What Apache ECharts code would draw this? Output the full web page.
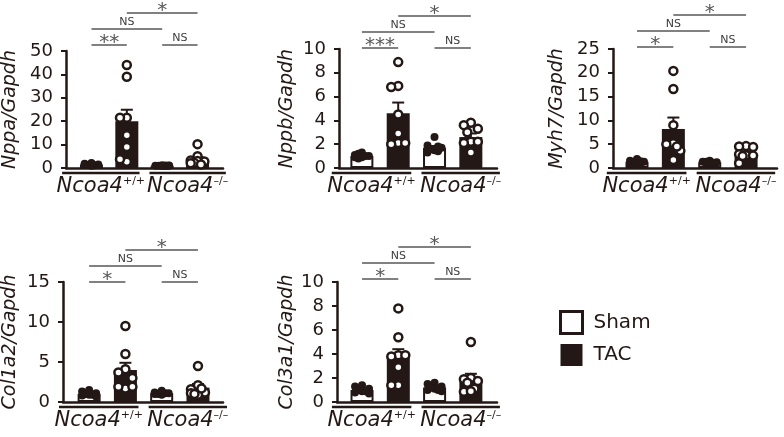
<!DOCTYPE html>
<html>
<head>
<meta charset="utf-8">
<script src="https://cdn.jsdelivr.net/npm/echarts@6/dist/echarts.min.js"></script>
<style>
html, body { margin: 0; padding: 0; background: #fff; }
#main { width: 784px; height: 437px; }
</style>
</head>
<body>
<div id="main"></div>
<script>
// group order in every panel: Sham +/+, TAC +/+, Sham -/-, TAC -/-
var treatments = ['Sham', 'TAC'];
var genotypeSup = ['+/+', '–/–'];
var sigPairs = [[0, 1, 0], [0, 2, 1], [1, 3, 2], [2, 3, 0]]; // from, to, level

var nppaMean = [1.5, 20.0, 1.0, 3.7];
var nppaSem = [0.15, 4.9, 0.05, 1.0];
var nppaDots = [[2.1, 1.8, 1.5, 1.3, 1.2, 1.0, 1.4, 1.6], [44, 39, 21.5, 21.5, 14, 9, 2.7, 3.7],
                [1.2, 1.0, 1.1, 0.9, 1.0, 1.1, 0.9, 1.0], [10.2, 5.0, 3.2, 2.8, 3.0, 2.2, 1.5, 2.0]];
var nppaSig = ['**', 'NS', '*', 'NS'];

var nppbMean = [1.0, 4.6, 1.7, 2.6];
var nppbSem = [0.08, 0.9, 0.15, 0.3];
var nppbDots = [[1.3, 1.1, 1.0, 0.9, 0.8, 1.0, 1.2, 0.9], [8.9, 6.9, 6.8, 4.5, 2.9, 2.1, 2.0, 2.1],
                [2.6, 1.9, 1.7, 1.5, 1.6, 1.3, 1.8, 1.4], [3.8, 3.6, 3.3, 3.0, 2.2, 2.1, 2.2, 1.3]];
var nppbSig = ['***', 'NS', '*', 'NS'];

var myh7Mean = [1.3, 8.2, 1.2, 3.0];
var myh7Sem = [0.15, 2.4, 0.1, 0.5];
var myh7Dots = [[1.9, 1.5, 1.3, 1.1, 1.0, 1.2, 0.9, 1.4], [20.4, 16.6, 9.0, 5.2, 5.0, 3.6, 1.7, 4.5],
                [1.5, 1.3, 1.2, 1.0, 1.1, 0.9, 1.2, 1.3], [4.6, 4.5, 4.4, 2.7, 2.9, 1.0, 2.6, 2.5]];
var myh7Sig = ['*', 'NS', '*', 'NS'];

var col1a2Mean = [1.0, 4.0, 1.1, 1.8];
var col1a2Sem = [0.1, 0.9, 0.07, 0.45];
var col1a2Dots = [[1.5, 1.3, 1.1, 1.0, 0.9, 0.8, 0.9, 0.7], [9.5, 6.0, 4.1, 3.7, 3.0, 1.7, 1.9, 1.9],
                  [1.4, 1.2, 1.1, 1.0, 1.1, 0.9, 1.2, 1.0], [4.5, 2.1, 1.6, 1.2, 0.9, 1.7, 1.1, 1.0]];
var col1a2Sig = ['*', 'NS', '*', 'NS'];

var col3a1Mean = [1.0, 3.8, 1.2, 1.8];
var col3a1Sem = [0.1, 0.6, 0.12, 0.55];
var col3a1Dots = [[1.4, 1.3, 1.1, 0.9, 0.8, 0.7, 1.0, 0.9], [7.8, 5.4, 3.9, 3.8, 3.9, 2.9, 1.4, 1.4],
                  [1.6, 1.5, 1.3, 1.1, 1.0, 0.9, 1.2, 1.0], [5.0, 2.0, 1.9, 1.75, 1.6, 1.1, 0.86, 0.9]];
var col3a1Sig = ['*', 'NS', '*', 'NS'];

var panels = [
    { title: 'Nppa/Gapdh', max: 50, step: 10, mean: nppaMean, sem: nppaSem, dots: nppaDots, sig: nppaSig },
    { title: 'Nppb/Gapdh', max: 10, step: 2, mean: nppbMean, sem: nppbSem, dots: nppbDots, sig: nppbSig },
    { title: 'Myh7/Gapdh', max: 25, step: 5, mean: myh7Mean, sem: myh7Sem, dots: myh7Dots, sig: myh7Sig },
    { title: 'Col1a2/Gapdh', max: 15, step: 5, mean: col1a2Mean, sem: col1a2Sem, dots: col1a2Dots, sig: col1a2Sig },
    { title: 'Col3a1/Gapdh', max: 10, step: 2, mean: col3a1Mean, sem: col3a1Sem, dots: col3a1Dots, sig: col3a1Sig }
];

// layout of each panel (pixels)
var layout = [
    { left: 62, top: 51, width: 161, height: 117, xMin: -0.72, xMax: 3.72, bracket: 6, nameGap: 46 },
    { left: 339, top: 49, width: 158, height: 119, xMin: -0.63, xMax: 3.72, bracket: 1, nameGap: 42 },
    { left: 613, top: 49, width: 164, height: 119, xMin: -0.66, xMax: 3.85, bracket: 2, nameGap: 46 },
    { left: 63, top: 282, width: 160, height: 120, xMin: -0.72, xMax: 3.69, bracket: 0, nameGap: 43 },
    { left: 337, top: 282, width: 160, height: 120, xMin: -0.69, xMax: 3.72, bracket: 3, nameGap: 40 }
];
var underline = [[-0.83, 1.36], [1.64, 3.8]];

var INK = '#231815';
var GREY = '#595757';
var FONT = 'DejaVu Sans';

// simple beeswarm: spread overlapping dots sideways inside the bar
function swarm(vals, g, xScale, yScale) {
    var placed = [];
    var cand = [0, -7, 7, -3.5, 3.5];
    return vals.map(function (v) {
        var best = 0, bestD = -1;
        for (var k = 0; k < cand.length; k++) {
            var d = Infinity;
            placed.forEach(function (q) {
                var dx = cand[k] - q[0], dy = (v - q[1]) * yScale;
                d = Math.min(d, Math.sqrt(dx * dx + dy * dy));
            });
            if (d >= 9) { best = cand[k]; break; }
            if (d > bestD) { bestD = d; best = cand[k]; }
        }
        placed.push([best, v]);
        return [g + best / xScale, v];
    });
}

var grids = [], xAxes = [], yAxes = [], series = [];

panels.forEach(function (p, i) {
    var L = layout[i];
    var xScale = L.width / (L.xMax - L.xMin);
    var yScale = L.height / p.max;

    grids.push({ left: L.left, top: L.top, width: L.width, height: L.height });

    xAxes.push({
        type: 'value', gridIndex: i, min: L.xMin, max: L.xMax,
        axisLine: { show: true, onZero: false, lineStyle: { color: INK, width: 2.5 } },
        axisTick: { show: false }, axisLabel: { show: false }, splitLine: { show: false }
    });

    yAxes.push({
        type: 'value', gridIndex: i, min: 0, max: p.max, interval: p.step,
        name: p.title, nameLocation: 'middle', nameGap: L.nameGap,
        nameTextStyle: { fontFamily: FONT, fontSize: 19, fontStyle: 'italic', color: INK },
        axisLine: { show: true, onZero: false, lineStyle: { color: INK, width: 2.5 } },
        axisTick: { show: true, length: 5, lineStyle: { color: INK, width: 2 } },
        axisLabel: { fontFamily: FONT, fontSize: 18, color: INK, margin: 13 },
        splitLine: { show: false }
    });

    // bars
    series.push({
        type: 'bar', name: 'Sham', xAxisIndex: i, yAxisIndex: i, barWidth: 23, barGap: '-100%',
        data: [[0, p.mean[0]], [2, p.mean[2]]], silent: true, z: 2,
        itemStyle: { color: '#fff', borderColor: INK, borderWidth: 2 }
    });
    series.push({
        type: 'bar', name: 'TAC', xAxisIndex: i, yAxisIndex: i, barWidth: 23, barGap: '-100%',
        data: [[1, p.mean[1]], [3, p.mean[3]]], silent: true, z: 2,
        itemStyle: { color: INK }
    });

    // SEM (upper only)
    series.push({
        type: 'custom', xAxisIndex: i, yAxisIndex: i, clip: false, silent: true, z: 3,
        data: p.mean.map(function (m, g) { return [g, m, m + p.sem[g]]; }),
        renderItem: function (params, api) {
            var base = api.coord([api.value(0), api.value(1)]);
            var tip = api.coord([api.value(0), api.value(2)]);
            return {
                type: 'group', children: [
                    { type: 'line', shape: { x1: base[0], y1: base[1], x2: tip[0], y2: tip[1] }, style: { stroke: INK, lineWidth: 2 } },
                    { type: 'line', shape: { x1: tip[0] - 6, y1: tip[1], x2: tip[0] + 6, y2: tip[1] }, style: { stroke: INK, lineWidth: 2 } }
                ]
            };
        }
    });

    // individual animals
    var shamPts = swarm(p.dots[0], 0, xScale, yScale).concat(swarm(p.dots[2], 2, xScale, yScale));
    var tacPts = swarm(p.dots[1], 1, xScale, yScale).concat(swarm(p.dots[3], 3, xScale, yScale));
    series.push({
        type: 'scatter', xAxisIndex: i, yAxisIndex: i, symbolSize: 8, silent: true, z: 4,
        data: shamPts, itemStyle: { color: INK, opacity: 1 }
    });
    series.push({
        type: 'scatter', xAxisIndex: i, yAxisIndex: i, symbolSize: 8, silent: true, z: 4,
        data: tacPts, itemStyle: { color: '#fff', borderColor: INK, borderWidth: 2.5, opacity: 1 }
    });

    // significance brackets
    series.push({
        type: 'custom', xAxisIndex: i, yAxisIndex: i, clip: false, silent: true, z: 5,
        data: sigPairs.map(function (s) { return [s[0], s[1], s[2]]; }),
        renderItem: function (params, api) {
            var a = api.coord([api.value(0), p.max]);
            var b = api.coord([api.value(1), p.max]);
            var y = a[1] - L.bracket - api.value(2) * 16;
            var label = p.sig[params.dataIndex];
            var ns = label === 'NS';
            return {
                type: 'group', children: [
                    { type: 'line', shape: { x1: a[0], y1: y, x2: b[0], y2: y }, style: { stroke: GREY, lineWidth: 1.6 } },
                    {
                        type: 'text', x: (a[0] + b[0]) / 2, y: ns ? y - 1 : y + 8,
                        style: {
                            text: label, align: 'center', verticalAlign: 'bottom',
                            fontFamily: FONT, fontSize: ns ? 11 : 20, fill: ns ? '#3e3a39' : GREY
                        }
                    }
                ]
            };
        }
    });

    // genotype underline and label
    series.push({
        type: 'custom', xAxisIndex: i, yAxisIndex: i, clip: false, silent: true, z: 5,
        data: underline.map(function (u, k) { return [u[0], u[1], k]; }),
        renderItem: function (params, api) {
            var a = api.coord([api.value(0), 0]);
            var b = api.coord([api.value(1), 0]);
            var k = api.value(2);
            return {
                type: 'group', children: [
                    { type: 'line', shape: { x1: a[0], y1: a[1] + 5, x2: b[0], y2: a[1] + 5 }, style: { stroke: INK, lineWidth: 2.5 } },
                    {
                        type: 'text', x: (a[0] + b[0]) / 2, y: a[1] + 19,
                        style: {
                            text: '{g|Ncoa4}{s|' + genotypeSup[k] + '}', align: 'center', verticalAlign: 'middle',
                            rich: {
                                g: { fontFamily: FONT, fontSize: 21, fontStyle: 'italic', fill: INK, lineHeight: 22 },
                                s: { fontFamily: FONT, fontSize: 11, fill: INK, verticalAlign: 'top', lineHeight: 22 }
                            }
                        }
                    }
                ]
            };
        }
    });
});

var option = {
    animation: false,
    backgroundColor: '#fff',
    legend: {
        orient: 'vertical', left: 559, top: 310, itemWidth: 22, itemHeight: 22, itemGap: 9, padding: 0,
        selectedMode: false,
        textStyle: { fontFamily: FONT, fontSize: 20, color: INK, padding: [0, 0, 0, 6] },
        data: [
            { name: treatments[0], icon: 'rect', itemStyle: { color: '#fff', borderColor: INK, borderWidth: 3 } },
            { name: treatments[1], icon: 'rect', itemStyle: { color: INK, borderWidth: 0 } }
        ]
    },
    grid: grids,
    xAxis: xAxes,
    yAxis: yAxes,
    series: series
};

var myChart = echarts.init(document.getElementById('main'));
myChart.setOption(option);
</script>
</body>
</html>
